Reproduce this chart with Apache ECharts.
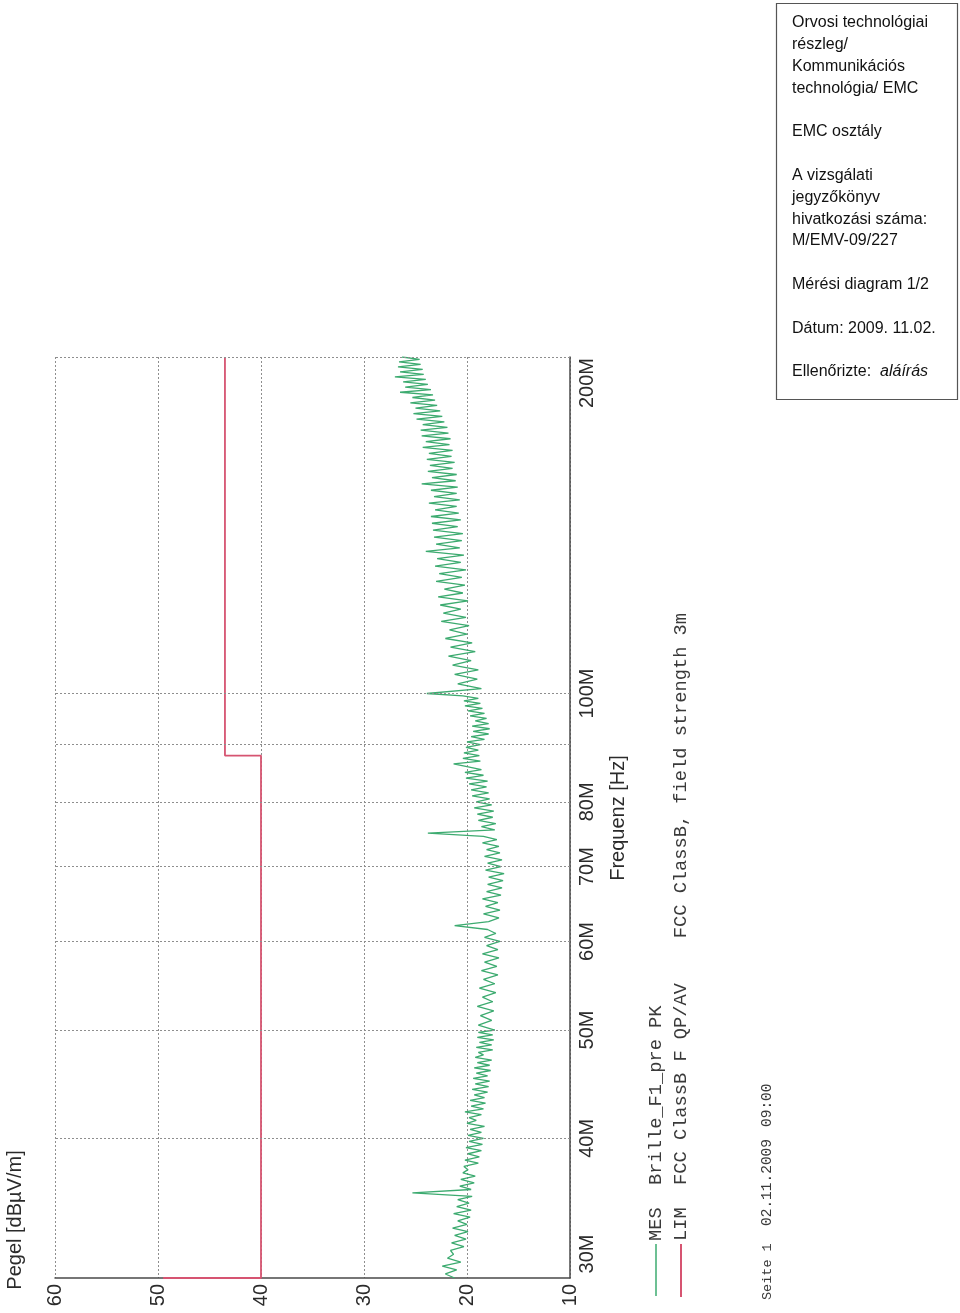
<!DOCTYPE html>
<html><head><meta charset="utf-8">
<script src="https://cdn.jsdelivr.net/npm/echarts@6/dist/echarts.min.js"></script>
<style>html,body{margin:0;padding:0;background:#fff}#c{width:960px;height:1313px}</style>
</head><body><div id="c"></div>
<script>
// ---- data (frequency in MHz, level in dBµV/m) ----
const levelTicks = [10, 20, 30, 40, 50, 60];
const freqLabels = [30, 40, 50, 60, 70, 80, 100, 200];
const freqGridLines = [40, 50, 60, 70, 80, 90, 100, 200];

// limit FCC Class B, 3 m  [MHz, dB]
const limitLine = [[30, 49.5], [30, 40], [88, 40], [88, 43.5], [200, 43.5]];

const mes30to50 = [
 [30,21.2],[30.25,22.1],[30.5,21.0],[30.75,22.4],[31,20.6],[31.25,21.9],[31.5,21.3],[31.75,21.6],
 [32,20.3],[32.25,21.5],[32.5,20.1],[32.75,21.2],[33,19.9],[33.25,21.4],[33.5,20.0],[33.75,20.9],
 [34,19.7],[34.25,21.3],[34.5,19.6],[34.75,21.0],[35,19.8],[35.25,20.9],[35.5,19.5],[35.75,25.3],
 [36,19.6],[36.25,20.7],[36.5,19.3],[36.75,20.6],[37,19.2],[37.25,20.4],[37.5,19.9],[37.75,20.3],
 [38,18.9],[38.25,20.2],[38.5,18.8],[38.75,19.9],[39,18.6],[39.25,20.1],[39.5,18.5],[39.75,19.8],
 [40,18.4],[40.25,19.9],[40.5,18.6],[40.75,19.7],[41,18.3],[41.25,20.0],[41.5,19.1],[41.75,19.8],
 [42,18.6],[42.25,20.2],[42.5,18.4],[42.75,19.6],[43,18.2],[43.25,19.7],[43.5,18.3],[43.75,19.3],
 [44,18.0],[44.25,19.5],[44.5,17.9],[44.75,19.2],[45,17.8],[45.25,19.4],[45.5,18.0],[45.75,19.1],
 [46,17.7],[46.25,19.3],[46.5,17.8],[46.75,19.0],[47,17.6],[47.25,19.2],[47.5,18.4],[47.75,18.9],
 [48,17.5],[48.25,19.1],[48.5,17.6],[48.75,18.8],[49,17.4],[49.25,19.0],[49.5,17.5],[49.75,18.9],
 [50,17.3]
];
const mes50to100 = [
 [50.5,18.9],[51,17.6],[51.5,18.7],[52,17.4],[52.5,19.0],[53,17.5],[53.5,18.5],[54,17.2],[54.5,18.8],[55,17.3],
 [55.5,18.4],[56,17.0],[56.5,18.6],[57,17.1],[57.5,18.3],[58,16.9],[58.5,18.5],[59,17.0],[59.5,18.1],[60,16.8],
 [60.5,18.3],[61,17.2],[61.5,18.0],[62,21.2],[62.5,17.9],[63,16.9],[63.5,18.4],[64,16.8],[64.5,18.2],[65,17.0],
 [65.5,18.5],[66,16.7],[66.5,18.1],[67,16.6],[67.5,18.0],[68,16.5],[68.5,17.9],[69,16.4],[69.5,18.2],[70,16.7],
 [70.5,18.0],[71,16.6],[71.5,18.3],[72,16.8],[72.5,18.1],[73,16.9],[73.5,18.5],[74,17.1],[74.5,18.4],[75,23.8],
 [75.5,17.3],[76,18.6],[76.5,17.2],[77,18.9],[77.5,17.5],[78,19.0],[78.5,17.4],[79,19.3],[79.5,17.6],[80,19.1],
 [80.5,17.8],[81,19.5],[81.5,17.9],[82,19.6],[82.5,18.1],[83,19.8],[83.5,18.0],[84,20.1],[84.5,18.4],[85,20.2],
 [85.5,18.6],[86,20.0],[86.5,21.3],[87,18.7],[87.5,20.4],[88,18.8],[88.5,20.3],[89,18.9],[89.5,20.1],[90,18.7],
 [90.5,20.0],[91,18.3],[91.5,19.6],[92,17.9],[92.5,19.4],[93,17.8],[93.5,19.5],[94,17.9],[94.5,19.2],[95,18.1],
 [95.5,19.7],[96,18.3],[96.5,19.9],[97,18.5],[97.5,20.2],[98,18.7],[98.5,20.3],[99,18.9],[99.5,20.4],[100,23.9]
];
const mes100to200 = [
 [101,18.6],[102,20.9],[103,19.0],[104,21.2],[105,18.9],[106,21.4],[107,19.6],[108,21.8],[109,19.2],[110,21.6],
 [111,19.5],[112,22.1],[113,20.0],[114,21.7],[115,19.8],[116,22.5],[117,20.1],[118,22.3],[119,20.6],[120,22.6],
 [121,19.9],[122,22.8],[123,20.4],[124,22.2],[125,20.2],[126,23.0],[127,20.5],[128,22.7],[129,20.1],[130,23.1],
 [131,20.6],[132,22.9],[133,20.3],[134,24.0],[135,20.7],[136,23.0],[137,20.5],[138,23.2],[139,20.4],[140,23.3],
 [141,20.9],[142,23.4],[143,20.6],[144,23.5],[145,20.8],[146,23.1],[147,21.0],[148,23.7],[149,20.7],[150,23.2],
 [151,21.0],[152,23.5],[153,20.9],[154,24.4],[155,21.1],[156,23.4],[157,21.0],[158,23.8],[159,21.4],[160,23.6],
 [161,21.2],[162,23.9],[163,21.5],[164,23.7],[165,21.4],[166,24.3],[167,21.7],[168,24.0],[169,21.6],[170,24.4],
 [171,21.8],[172,24.5],[173,21.9],[174,24.3],[175,22.2],[176,24.9],[177,22.4],[178,25.2],[179,22.6],[180,25.0],
 [181,22.9],[182,25.5],[183,23.1],[184,25.3],[185,23.3],[186,26.5],[187,23.5],[188,26.0],[189,23.8],[190,26.2],
 [191,24.0],[192,27.0],[193,24.2],[194,26.5],[195,24.3],[196,26.7],[197,24.5],[198,26.6],[199,24.6],[200,26.3]
];

const infoLines = [
 'Orvosi technológiai', 'részleg/', 'Kommunikációs', 'technológia/ EMC', '',
 'EMC osztály', '', 'A vizsgálati', 'jegyzőkönyv', 'hivatkozási száma:', 'M/EMV-09/227', '',
 'Mérési diagram 1/2', '', 'Dátum: 2009. 11.02.', ''
];

// ---- build ----
const toXY = p => [p[1], p[0]];
const mesData = mes30to50.concat(mes50to100, mes100to200).map(toXY);
const limData = limitLine.map(toXY);

const GREEN = '#3dab70', RED = '#d65471', GRID = '#8e8e8e', AXIS = '#4a4a4a', TXT = '#2b2b2b';
const SANS = '"Liberation Sans", Arial, sans-serif';
const MONO = '"Liberation Mono", "DejaVu Sans Mono", monospace';

const chart = echarts.init(document.getElementById('c'), null, {renderer: 'canvas'});

const graphics = [];
// info box
graphics.push({type: 'rect', shape: {x: 776.5, y: 3.5, width: 181, height: 396}, style: {fill: '#fff', stroke: '#555', lineWidth: 1.2}});
let ly = 23;
infoLines.forEach(t => {
  if (t) graphics.push({type: 'text', x: 792, y: ly, style: {text: t, font: '16px ' + SANS, fill: '#111', textAlign: 'left', textVerticalAlign: 'middle', align: 'left', verticalAlign: 'middle'}});
  ly += 21.8;
});
graphics.push({type: 'text', x: 792, y: 372, style: {
  text: '{n|Ellenőrizte:  }{i|aláírás}', textAlign: 'left', textVerticalAlign: 'middle', align: 'left', verticalAlign: 'middle',
  rich: {n: {font: '16px ' + SANS, fill: '#111'}, i: {font: 'italic 16px ' + SANS, fill: '#111'}}
}});
// axis titles
const rotText = (x, y, text, font, align, color) => ({type: 'text', x: x, y: y, rotation: Math.PI / 2,
  style: {text: text, font: font, fill: color || TXT, textAlign: align, textVerticalAlign: 'middle', align: align, verticalAlign: 'middle'}});
graphics.push(rotText(15, 1220, 'Pegel [dBµV/m]', '20px ' + SANS, 'center'));
graphics.push(rotText(618, 818, 'Frequenz [Hz]', '20px ' + SANS, 'center'));
// legend
graphics.push({type: 'line', shape: {x1: 656, y1: 1244, x2: 656, y2: 1296}, style: {stroke: GREEN, lineWidth: 1.5}});
graphics.push({type: 'line', shape: {x1: 681, y1: 1244, x2: 681, y2: 1297}, style: {stroke: RED, lineWidth: 2}});
graphics.push(rotText(656, 1241, 'MES  Brille_F1_pre PK', '18.7px ' + MONO, 'left', '#3a3a3a'));
graphics.push(rotText(681, 1241, 'LIM  FCC ClassB F QP/AV    FCC ClassB, field strength 3m', '18.7px ' + MONO, 'left', '#3a3a3a'));
graphics.push(rotText(767, 1300, 'Seite 1', '13.5px ' + MONO, 'left', '#3a3a3a'));
graphics.push(rotText(767, 1226, '02.11.2009', '14.5px ' + MONO, 'left', '#3a3a3a'));
graphics.push(rotText(767, 1127, '09:00', '14.5px ' + MONO, 'left', '#3a3a3a'));

const option = {
  animation: false,
  backgroundColor: '#fff',
  grid: {left: 55, right: 390, top: 357, bottom: 35, containLabel: false},
  xAxis: {
    type: 'value', min: 10, max: 60, interval: 10, inverse: true, position: 'bottom',
    axisLine: {show: true, onZero: false, lineStyle: {color: AXIS, width: 1.5}},
    axisTick: {show: false},
    splitLine: {show: true, lineStyle: {color: GRID, type: [2, 2], width: 1}},
    axisLabel: {rotate: 90, margin: 6, fontSize: 20, fontFamily: SANS, color: TXT,
      customValues: levelTicks, formatter: v => String(v)}
  },
  yAxis: {
    type: 'log', logBase: 10, min: 30, max: 200, position: 'right',
    axisLine: {show: true, onZero: false, lineStyle: {color: AXIS, width: 1.5}},
    axisTick: {show: false},
    splitLine: {show: false},
    axisLabel: {
      rotate: 90, margin: 7, fontSize: 20, fontFamily: SANS, color: TXT,
      customValues: freqLabels,
      formatter: v => {
        const r = Math.round(v);
        if (r === 30) return '{s|30M}';
        if (r === 200) return '{e|200M}';
        return '{m|' + r + 'M}';
      },
      rich: {
        s: {fontSize: 20, fontFamily: SANS, color: TXT, padding: [0, 0, 0, 48]},
        e: {fontSize: 20, fontFamily: SANS, color: TXT, padding: [0, 52, 0, 0]},
        m: {fontSize: 20, fontFamily: SANS, color: TXT}
      }
    }
  },
  graphic: graphics,
  series: [
    {
      name: 'grid', type: 'line', data: [], z: 1, silent: true,
      markLine: {
        silent: true, symbol: ['none', 'none'], label: {show: false}, animation: false,
        lineStyle: {color: GRID, type: [2, 2], width: 1},
        data: freqGridLines.map(f => ({yAxis: f}))
      }
    },
    {
      name: 'MES', type: 'line', data: mesData, showSymbol: false, symbol: 'none', z: 3,
      lineStyle: {color: GREEN, width: 1.3}, itemStyle: {color: GREEN}
    },
    {
      name: 'LIM', type: 'line', data: limData, showSymbol: false, symbol: 'none', z: 4,
      lineStyle: {color: RED, width: 1.8}, itemStyle: {color: RED}
    }
  ]
};
chart.setOption(option);
</script>
</body></html>
